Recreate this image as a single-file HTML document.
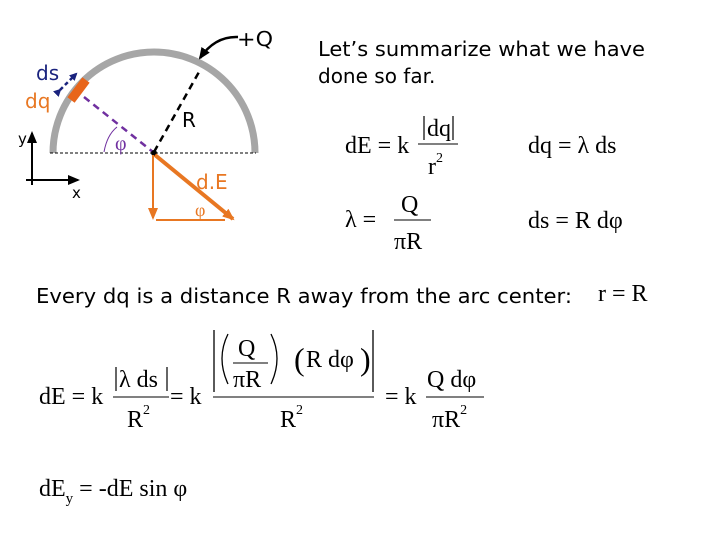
<!DOCTYPE html>
<html><head><style>body{margin:0;background:#fff}svg{display:block}</style></head><body>
<svg width="720" height="540" viewBox="0 0 720 540" xmlns="http://www.w3.org/2000/svg" xml:space="preserve">
<defs>
<marker id="ab" markerWidth="8" markerHeight="8" refX="6" refY="4" orient="auto" markerUnits="userSpaceOnUse"><path d="M0,0 L8,4 L0,8 z" fill="#1a237e"/></marker>
<marker id="ao" markerWidth="12" markerHeight="10" refX="10" refY="5" orient="auto" markerUnits="userSpaceOnUse"><path d="M0,0 L12,5 L0,10 z" fill="#e87722"/></marker>
<marker id="ak" markerWidth="12" markerHeight="10" refX="10" refY="5" orient="auto" markerUnits="userSpaceOnUse"><path d="M0,0 L12,5 L0,10 z" fill="#000"/></marker>
</defs>
<g font-family="DejaVu Sans, sans-serif">
<path d="M53,153 A101,101 0 0 1 255,153" fill="none" stroke="#a6a6a6" stroke-width="7"/>
<line x1="50" y1="153" x2="256" y2="153" stroke="#000" stroke-dasharray="3,2" stroke-width="1"/>
<line x1="86" y1="80" x2="71" y2="100" stroke="#e8651a" stroke-width="9"/>
<line x1="60" y1="90" x2="76" y2="74" stroke="#1a237e" stroke-width="2.5" stroke-dasharray="4,3" marker-end="url(#ab)" marker-start="url(#ab)"/>
<line x1="84" y1="97" x2="153" y2="152" stroke="#7030a0" stroke-width="2.5" stroke-dasharray="7,5"/>
<path d="M104,152 Q107,135 117,127" fill="none" stroke="#7030a0" stroke-width="1"/>
<line x1="154" y1="152" x2="199" y2="72" stroke="#000" stroke-width="2.5" stroke-dasharray="7,5"/>
<circle cx="154" cy="153" r="3" fill="#000"/>
<path d="M238,37 Q215,36 200,58" fill="none" stroke="#000" stroke-width="2.5" marker-end="url(#ak)"/>
<text x="237" y="46" font-size="20" textLength="36" lengthAdjust="spacingAndGlyphs">+Q</text>
<line x1="155" y1="155" x2="233" y2="219" stroke="#e87722" stroke-width="4" marker-end="url(#ao)"/>
<line x1="153" y1="155" x2="153" y2="218" stroke="#e87722" stroke-width="2" marker-end="url(#ao)"/>
<line x1="156" y1="220" x2="225" y2="220" stroke="#e87722" stroke-width="2"/>
<line x1="32" y1="185" x2="32" y2="133" stroke="#000" stroke-width="2" marker-end="url(#ak)"/>
<line x1="26" y1="180" x2="78" y2="180" stroke="#000" stroke-width="2" marker-end="url(#ak)"/>
<text x="18" y="144" font-size="15">y</text>
<text x="72" y="198" font-size="15">x</text>
<text x="36" y="80" font-size="20" fill="#1a237e">ds</text>
<text x="25" y="108" font-size="20" fill="#e87722">dq</text>
<text x="182" y="127" font-size="20">R</text>
<text x="115" y="150" font-size="20" fill="#7030a0" font-family="Liberation Serif, serif">φ</text>
<text x="196" y="189" font-size="20" fill="#e87722">d.E</text>
<text x="195" y="216" font-size="18" fill="#e87722" font-family="Liberation Serif, serif">φ</text>
<text x="318" y="56" font-size="20" textLength="327" lengthAdjust="spacingAndGlyphs">Let’s summarize what we have</text>
<text x="318" y="83" font-size="20">done so far.</text>
<text x="36" y="303" font-size="20" textLength="536" lengthAdjust="spacingAndGlyphs">Every dq is a distance R away from the arc center:</text>
</g>
<g font-family="Liberation Serif, serif" font-size="24">
<text x="345" y="153">dE = k</text>
<line x1="424" y1="116" x2="424" y2="140" stroke="#000" stroke-width="1.2"/>
<text x="427" y="136">dq</text>
<line x1="453" y1="116" x2="453" y2="140" stroke="#000" stroke-width="1.2"/>
<line x1="418" y1="144" x2="458" y2="144" stroke="#000" stroke-width="1"/>
<text x="428" y="174">r<tspan font-size="14" dy="-12">2</tspan></text>
<text x="528" y="153">dq = λ  ds</text>
<text x="345" y="227">λ =</text>
<text x="401" y="212">Q</text>
<line x1="394" y1="220" x2="431" y2="220" stroke="#000" stroke-width="1"/>
<text x="394" y="249">πR</text>
<text x="528" y="228">ds = R  dφ</text>
<text x="598" y="301">r = R</text>
<text x="39" y="404">dE = k</text>
<line x1="116" y1="367" x2="116" y2="391" stroke="#000" stroke-width="1.2"/>
<text x="119" y="387">λ  ds</text>
<line x1="167" y1="367" x2="167" y2="391" stroke="#000" stroke-width="1.2"/>
<line x1="113" y1="397" x2="169" y2="397" stroke="#000" stroke-width="1"/>
<text x="127" y="427">R<tspan font-size="14" dy="-13">2</tspan></text>
<text x="170" y="404">= k</text>
<line x1="213" y1="397" x2="374" y2="397" stroke="#000" stroke-width="1"/>
<line x1="214" y1="330" x2="214" y2="392" stroke="#000" stroke-width="1.3"/>
<path d="M228,334 Q216,358 228,384" fill="none" stroke="#000" stroke-width="1.3"/>
<text x="238" y="356">Q</text>
<line x1="233" y1="363" x2="268" y2="363" stroke="#000" stroke-width="1"/>
<text x="233" y="387">πR</text>
<path d="M271,334 Q283,358 271,384" fill="none" stroke="#000" stroke-width="1.3"/>
<text x="294" y="370" font-size="32">(</text>
<text x="306" y="367">R  dφ</text>
<text x="360" y="370" font-size="32">)</text>
<line x1="373" y1="330" x2="373" y2="392" stroke="#000" stroke-width="1.3"/>
<text x="280" y="427">R<tspan font-size="14" dy="-13">2</tspan></text>
<text x="385" y="404">= k</text>
<text x="427" y="387">Q  dφ</text>
<line x1="426" y1="397" x2="484" y2="397" stroke="#000" stroke-width="1"/>
<text x="432" y="427">πR<tspan font-size="14" dy="-13">2</tspan></text>
<text x="39" y="496">dE<tspan font-size="15" dy="7">y</tspan><tspan dy="-7">  = -dE  sin φ</tspan></text>
</g>
</svg>
</body></html>
